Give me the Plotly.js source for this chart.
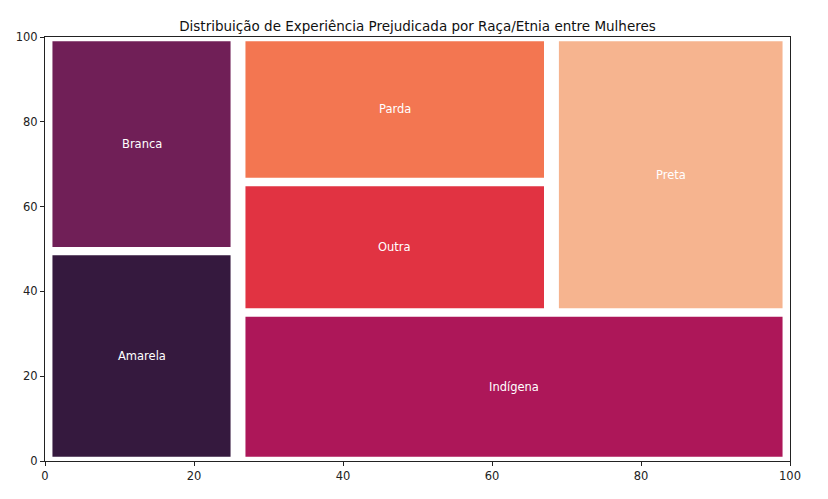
<!DOCTYPE html>
<html><head><meta charset="utf-8">
<script src="https://cdn.plot.ly/plotly-3.0.1.min.js"></script>
<style>html,body{margin:0;padding:0;background:#fff}#chart{width:828px;height:499px}</style>
</head><body><div id="chart"></div>
<script>
const labels = ["Amarela", "Branca", "Indígena", "Outra", "Parda", "Preta"];
const values = [1282, 1308, 2594, 1295, 1438, 2080];
const colors = ["#35193e", "#701f57", "#ad1759", "#e13342", "#f37651", "#f6b48f"];
const tickVals = [0, 20, 40, 60, 80, 100];

// squarify port
function layoutrow(s, x, y, dx, dy) { const a = s.reduce((p,c)=>p+c,0); const w = a/dy; const r=[]; for (const v of s){ r.push({x:x,y:y,dx:w,dy:v/w}); y+=v/w;} return r; }
function layoutcol(s, x, y, dx, dy) { const a = s.reduce((p,c)=>p+c,0); const h = a/dx; const r=[]; for (const v of s){ r.push({x:x,y:y,dx:v/h,dy:h}); x+=v/h;} return r; }
function layout(s,x,y,dx,dy){ return dx>=dy ? layoutrow(s,x,y,dx,dy) : layoutcol(s,x,y,dx,dy); }
function leftover(s,x,y,dx,dy){ const a=s.reduce((p,c)=>p+c,0); if(dx>=dy){const w=a/dy; return [x+w,y,dx-w,dy];} const h=a/dx; return [x,y+h,dx,dy-h]; }
function worst(s,x,y,dx,dy){ return Math.max(...layout(s,x,y,dx,dy).map(r=>Math.max(r.dx/r.dy,r.dy/r.dx))); }
function squarify(s,x,y,dx,dy){
  if(s.length===0) return [];
  if(s.length===1) return layout(s,x,y,dx,dy);
  let i=1;
  while(i<s.length && worst(s.slice(0,i),x,y,dx,dy) >= worst(s.slice(0,i+1),x,y,dx,dy)) i++;
  const cur=s.slice(0,i), rem=s.slice(i);
  const lo=leftover(cur,x,y,dx,dy);
  return layout(cur,x,y,dx,dy).concat(squarify(rem,lo[0],lo[1],lo[2],lo[3]));
}
const W=100,H=100;
const total = values.reduce((p,c)=>p+c,0);
const norm = values.map(v=>v*W*H/total);
const rects = squarify(norm,0,0,W,H).map(r=>{ if(r.dx>2){r.x+=1;r.dx-=2;} if(r.dy>2){r.y+=1;r.dy-=2;} return r; });

const traces = rects.map((r,i)=>({
  type:'scatter', mode:'lines', fill:'toself', fillcolor:colors[i],
  x:[r.x, r.x+r.dx, r.x+r.dx, r.x, r.x], y:[r.y, r.y, r.y+r.dy, r.y+r.dy, r.y],
  line:{width:0, color:colors[i]}, hoverinfo:'skip', showlegend:false
}));
const annotations = rects.map((r,i)=>({
  x:r.x+r.dx/2, y:r.y+r.dy/2, xref:'x', yref:'y', text:labels[i], showarrow:false,
  font:{family:'DejaVu Sans', size:11.5, color:'#ffffff'}
}));
const axisCommon = {
  range:[0,100], tickvals:tickVals, ticks:'outside', ticklen:4, tickwidth:1, tickcolor:'#222',
  showline:true, linecolor:'#222', linewidth:1, mirror:true, showgrid:false, zeroline:false,
  tickfont:{family:'DejaVu Sans', size:11.5, color:'#222'}, fixedrange:true
};
const layout1 = {
  width:828, height:499, margin:{l:45, r:38, t:37, b:38},
  paper_bgcolor:'#fff', plot_bgcolor:'#fff',
  title:{text:'Distribuição de Experiência Prejudicada por Raça/Etnia entre Mulheres',
    font:{family:'DejaVu Sans', size:13.5, color:'#111'}, x:0.5, xref:'paper', y:1, yref:'paper', yanchor:'bottom', pad:{b:6}},
  xaxis:Object.assign({}, axisCommon),
  yaxis:Object.assign({}, axisCommon),
  annotations:annotations
};
Plotly.newPlot('chart', traces, layout1, {displayModeBar:false, staticPlot:true});
</script></body></html>
